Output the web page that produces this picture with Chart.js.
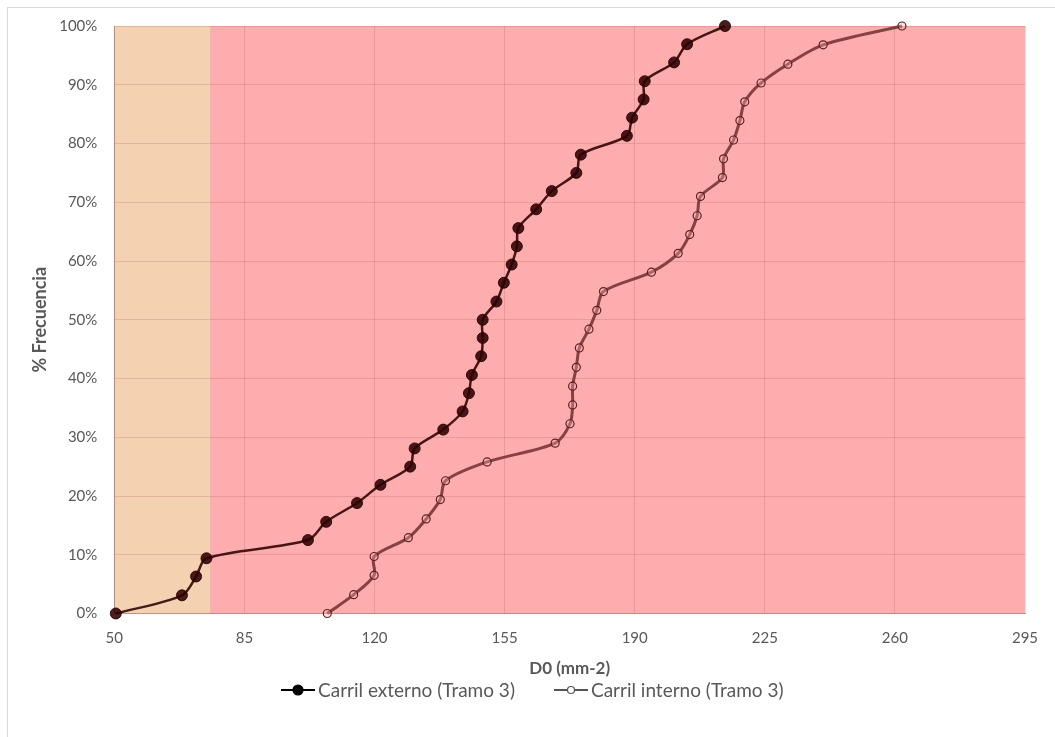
<!DOCTYPE html>
<html>
<head>
<meta charset="utf-8">
<script src="https://cdn.jsdelivr.net/npm/chart.js@4/dist/chart.umd.min.js"></script>
<style>
  html, body { margin: 0; padding: 0; background: #fff; overflow: hidden; }
  #wrap { position: relative; width: 1055px; height: 737px; }
  #frame { position: absolute; left: 7px; top: 7px; width: 1060px; height: 740px; border: 1px solid #d9d9d9; box-sizing: border-box; pointer-events: none; }
  canvas#chart { position: absolute; left: 0; top: 0; }
  #leyenda { position: absolute; left: 281px; top: 678px; display: flex; align-items: center; font-family: Lato, sans-serif; font-size: 19px; line-height: 24px; color: #595959; white-space: nowrap; }
  #leyenda .item { display: flex; align-items: center; margin-right: 39px; }
  #leyenda canvas { margin-right: 3px; }
</style>
</head>
<body>
<div id="wrap">
  <div id="frame"></div>
  <canvas id="chart" width="1055" height="737"></canvas>
  <div id="leyenda"></div>
</div>
<script>
// Datos
const externoX = [50.4, 68.2, 72.0, 74.8, 102.1, 107.0, 115.3, 121.6, 129.6, 130.8, 138.5, 143.7, 145.4, 146.2, 148.7, 149.1, 149.1,
    152.8, 154.8, 156.9, 158.3, 158.7, 163.5, 167.7, 174.3, 175.5, 187.9, 189.3, 192.4, 192.7, 200.6, 204.1, 214.3];
const externoY = [0, 3.1, 6.3, 9.4, 12.5, 15.6, 18.8, 21.9, 25, 28.1, 31.3, 34.4, 37.5, 40.6, 43.8, 46.9, 50,
    53.1, 56.3, 59.4, 62.5, 65.6, 68.8, 71.9, 75, 78.1, 81.3, 84.4, 87.5, 90.6, 93.8, 96.9, 100];

const internoX = [107.3, 114.4, 119.9, 119.9, 129.1, 133.9, 137.7, 139.1, 150.3, 168.6, 172.6, 173.3, 173.3, 174.3, 175.1, 177.7,
    179.8, 181.6, 194.5, 201.7, 204.8, 206.8, 207.7, 213.6, 213.9, 216.6, 218.3, 219.6, 224.0, 231.2, 240.7, 261.9];
const internoY = [0, 3.2, 6.5, 9.7, 12.9, 16.1, 19.4, 22.6, 25.8, 29.0, 32.3, 35.5, 38.7, 41.9, 45.2, 48.4,
    51.6, 54.8, 58.1, 61.3, 64.5, 67.7, 71.0, 74.2, 77.4, 80.6, 83.9, 87.1, 90.3, 93.5, 96.8, 100];

const xTicks = [50, 85, 120, 155, 190, 225, 260, 295];
const yTicks = [0, 10, 20, 30, 40, 50, 60, 70, 80, 90, 100];

// zonas de fondo (límites en D0)
const zonaLimites = [50, 75.7, 295];
const zonaColores = ['#F4D1B1', '#FDADAE'];

const colorExterno = 'rgba(45,0,0,0.88)';
const colorInterno = 'rgba(105,38,38,0.8)';

// iconos de la leyenda: línea con marcador
function iconoLeyenda(relleno, radio, colorLinea, colorBorde) {
    const c = document.createElement('canvas');
    c.width = 34; c.height = 14;
    const g = c.getContext('2d');
    g.strokeStyle = colorLinea;
    g.lineWidth = 2;
    g.beginPath(); g.moveTo(0, 7); g.lineTo(34, 7); g.stroke();
    g.beginPath(); g.arc(17, 7, radio, 0, Math.PI * 2);
    g.fillStyle = relleno; g.fill();
    g.lineWidth = 1.2; g.strokeStyle = colorBorde; g.stroke();
    return c;
}

const zonasPlugin = {
    id: 'zonas',
    beforeDraw(chart) {
        const { ctx, chartArea, scales } = chart;
        ctx.save();
        for (let i = 0; i < zonaColores.length; i++) {
            const x0 = scales.x.getPixelForValue(zonaLimites[i]);
            const x1 = scales.x.getPixelForValue(zonaLimites[i + 1]);
            ctx.fillStyle = zonaColores[i];
            ctx.fillRect(x0, chartArea.top, x1 - x0, chartArea.bottom - chartArea.top);
        }
        ctx.restore();
    }
};

const ctx = document.getElementById('chart').getContext('2d');
const chart = new Chart(ctx, {
    type: 'line',
    data: {
        datasets: [
            {
                label: 'Carril externo (Tramo 3)',
                data: externoX.map((x, i) => ({ x: x, y: externoY[i] })),
                borderColor: colorExterno,
                backgroundColor: colorExterno,
                borderWidth: 2.5,
                pointRadius: 5.5,
                pointBorderWidth: 1,
                pointBorderColor: colorExterno,
                pointBackgroundColor: colorExterno,
                tension: 0.3,
                clip: false
            },
            {
                label: 'Carril interno (Tramo 3)',
                data: internoX.map((x, i) => ({ x: x, y: internoY[i] })),
                borderColor: colorInterno,
                backgroundColor: colorInterno,
                borderWidth: 3,
                pointRadius: 4,
                pointBorderWidth: 1.2,
                pointBorderColor: '#5a2222',
                pointBackgroundColor: 'rgba(253,173,174,0.35)',
                tension: 0.3,
                clip: false
            }
        ]
    },
    options: {
        responsive: false,
        animation: false,
        layout: { padding: { left: 29, right: 30, top: 25, bottom: 55.8 } },
        scales: {
            x: {
                type: 'linear',
                min: 50,
                max: 295,
                afterBuildTicks: s => { s.ticks = xTicks.map(v => ({ value: v })); },
                afterFit: s => { s.height = 67.7; },
                grid: { color: 'rgba(170,80,80,0.22)', drawTicks: false },
                border: { color: 'rgba(160,110,100,0.6)' },
                ticks: { padding: 16, color: '#595959', font: { family: 'Lato', size: 15 } },
                title: {
                    display: true,
                    text: 'D0 (mm-2)',
                    color: '#595959',
                    font: { family: 'Lato', size: 17, weight: 'bold' },
                    padding: { top: 0, bottom: 2 }
                }
            },
            y: {
                min: 0,
                max: 100,
                afterBuildTicks: s => { s.ticks = yTicks.map(v => ({ value: v })); },
                afterFit: s => { s.width = 85.3; },
                grid: { color: 'rgba(170,80,80,0.22)', drawTicks: false },
                border: { color: 'rgba(170,120,80,0.7)' },
                ticks: {
                    padding: 17,
                    color: '#595959',
                    font: { family: 'Lato', size: 15 },
                    callback: v => v + '%'
                },
                title: {
                    display: true,
                    text: '% Frecuencia',
                    color: '#595959',
                    font: { family: 'Lato', size: 18, weight: 'bold' },
                    padding: { top: 0, bottom: 0 }
                }
            }
        },
        plugins: {
            legend: { display: false },
            tooltip: { enabled: false }
        }
    },
    plugins: [zonasPlugin]
});

// Leyenda en HTML
const iconos = [iconoLeyenda('#000', 5, '#000', '#000'), iconoLeyenda('#fff', 3.5, '#555', '#555')];
const leyenda = document.getElementById('leyenda');
chart.data.datasets.forEach((d, i) => {
    const item = document.createElement('div');
    item.className = 'item';
    item.appendChild(iconos[i]);
    const txt = document.createElement('span');
    txt.textContent = d.label;
    item.appendChild(txt);
    leyenda.appendChild(item);
});
</script>
</body>
</html>
